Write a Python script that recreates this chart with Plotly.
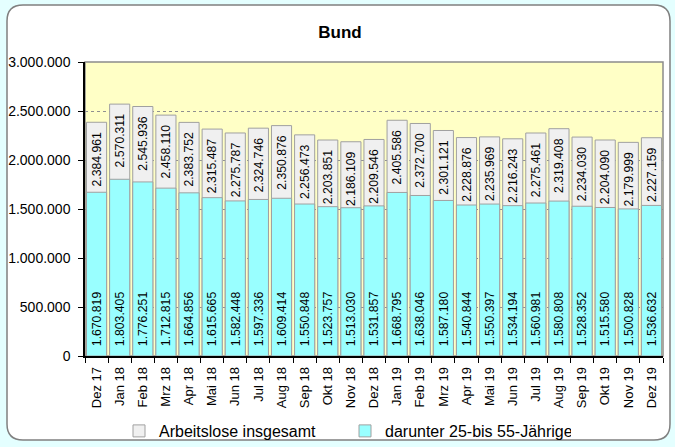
import plotly.graph_objects as go

months = ["Dez 17", "Jan 18", "Feb 18", "Mrz 18", "Apr 18", "Mai 18", "Jun 18", "Jul 18",
          "Aug 18", "Sep 18", "Okt 18", "Nov 18", "Dez 18", "Jan 19", "Feb 19", "Mrz 19",
          "Apr 19", "Mai 19", "Jun 19", "Jul 19", "Aug 19", "Sep 19", "Okt 19", "Nov 19", "Dez 19"]

insgesamt = [2384961, 2570311, 2545936, 2458110, 2383752, 2315487, 2275787, 2324746,
             2350876, 2256473, 2203851, 2186109, 2209546, 2405586, 2372700, 2301121,
             2228876, 2235969, 2216243, 2275461, 2319408, 2234030, 2204090, 2179999, 2227159]

darunter = [1670819, 1803405, 1776251, 1712815, 1664856, 1615665, 1582448, 1597336,
            1609414, 1550848, 1523757, 1513030, 1531857, 1668795, 1638046, 1587180,
            1540844, 1550397, 1534194, 1560981, 1580808, 1528352, 1515580, 1500828, 1536632]

y_ticks = [0, 500000, 1000000, 1500000, 2000000, 2500000, 3000000]


def de(v):
    return f"{v:,}".replace(",", ".")


NB = "\u00a0"
FONT = "Liberation Sans, Arial, sans-serif"

fig = go.Figure()
fig.add_trace(go.Bar(
    x=months, y=insgesamt, name="Arbeitslose insgesamt",
    marker=dict(color="#f0f0f0", line=dict(color="#a0a0a0", width=1)),
))
fig.add_trace(go.Bar(
    x=months, y=darunter, name="darunter 25-bis 55-Jährige",
    marker=dict(color="#99ffff", line=dict(color="#a0a0a0", width=1)),
    text=[NB * 2 + de(v) for v in darunter], textposition="inside",
    insidetextanchor="start", textangle=-90,
    insidetextfont=dict(family=FONT, size=13, color="black"),
))
# labels for totals, drawn on top of everything
fig.add_trace(go.Bar(
    x=months, y=insgesamt, showlegend=False, hoverinfo="skip",
    marker=dict(color="rgba(0,0,0,0)", line=dict(width=0)),
    text=[de(v) + NB * 2 for v in insgesamt], textposition="inside",
    insidetextanchor="end", textangle=-90,
    insidetextfont=dict(family=FONT, size=13, color="black"),
))

L, R, T, B = 85, 663, 62, 356
W, H = R - L, B - T


def fx(px):
    return (px - L) / W


def fy(py):
    return (B - py) / H


def rounded(x0, y0, x1, y1, r):
    p = [
        f"M {fx(x0 + r)} {fy(y0)}",
        f"L {fx(x1 - r)} {fy(y0)}",
        f"Q {fx(x1)} {fy(y0)} {fx(x1)} {fy(y0 + r)}",
        f"L {fx(x1)} {fy(y1 - r)}",
        f"Q {fx(x1)} {fy(y1)} {fx(x1 - r)} {fy(y1)}",
        f"L {fx(x0 + r)} {fy(y1)}",
        f"Q {fx(x0)} {fy(y1)} {fx(x0)} {fy(y1 - r)}",
        f"L {fx(x0)} {fy(y0 + r)}",
        f"Q {fx(x0)} {fy(y0)} {fx(x0 + r)} {fy(y0)}",
        "Z",
    ]
    return " ".join(p)


shapes = [
    dict(type="path", xref="paper", yref="paper", path=rounded(7, 5, 670, 440, 16),
         fillcolor="white", line=dict(color="#808080", width=1.5), layer="below"),
    dict(type="rect", xref="paper", yref="paper", x0=0, x1=1, y0=0, y1=1,
         fillcolor="#ffffc6", line=dict(color="#8c8c8c", width=1.5), layer="below"),
]

fig.update_layout(
    width=675, height=447,
    margin=dict(l=L, r=675 - R, t=T, b=447 - B),
    paper_bgcolor="#e4ffff", plot_bgcolor="rgba(0,0,0,0)",
    barmode="overlay", bargap=0.13,
    font=dict(family=FONT, color="black"),
    title=dict(text="<b>Bund</b>", x=340 / 675, xanchor="center", y=1 - 32 / 447, yanchor="middle",
               xref="container", yref="container",
               font=dict(size=17, family=FONT, color="black")),
    shapes=shapes,
    showlegend=True,
    legend=dict(orientation="h", xref="container", yref="container",
                x=119 / 675, xanchor="left", y=1 - 431 / 447, yanchor="middle",
                font=dict(size=16, family=FONT), bgcolor="rgba(0,0,0,0)",
                itemwidth=30, entrywidth=181, traceorder="normal"),
    xaxis=dict(type="category", tickangle=-90, tickfont=dict(size=13, family=FONT),
               ticks="outside", ticklen=5, tickcolor="black", tickson="boundaries",
               ticklabelstandoff=4, automargin=False,
               showline=True, linecolor="black", linewidth=1.5, showgrid=False),
    yaxis=dict(range=[0, 3000000], tickvals=y_ticks, ticktext=[de(v) for v in y_ticks],
               tickfont=dict(size=14, family=FONT), ticks="outside", ticklen=5,
               ticklabelstandoff=5, automargin=False,
               tickcolor="black", showline=True, linecolor="black", linewidth=1.5,
               showgrid=True, gridcolor="#909090", griddash="dot", gridwidth=1,
               zeroline=False),
)

fig.write_html("out.html", config={"displayModeBar": False},
               post_script="document.body.style.margin='0';document.body.style.background='#e4ffff';")
